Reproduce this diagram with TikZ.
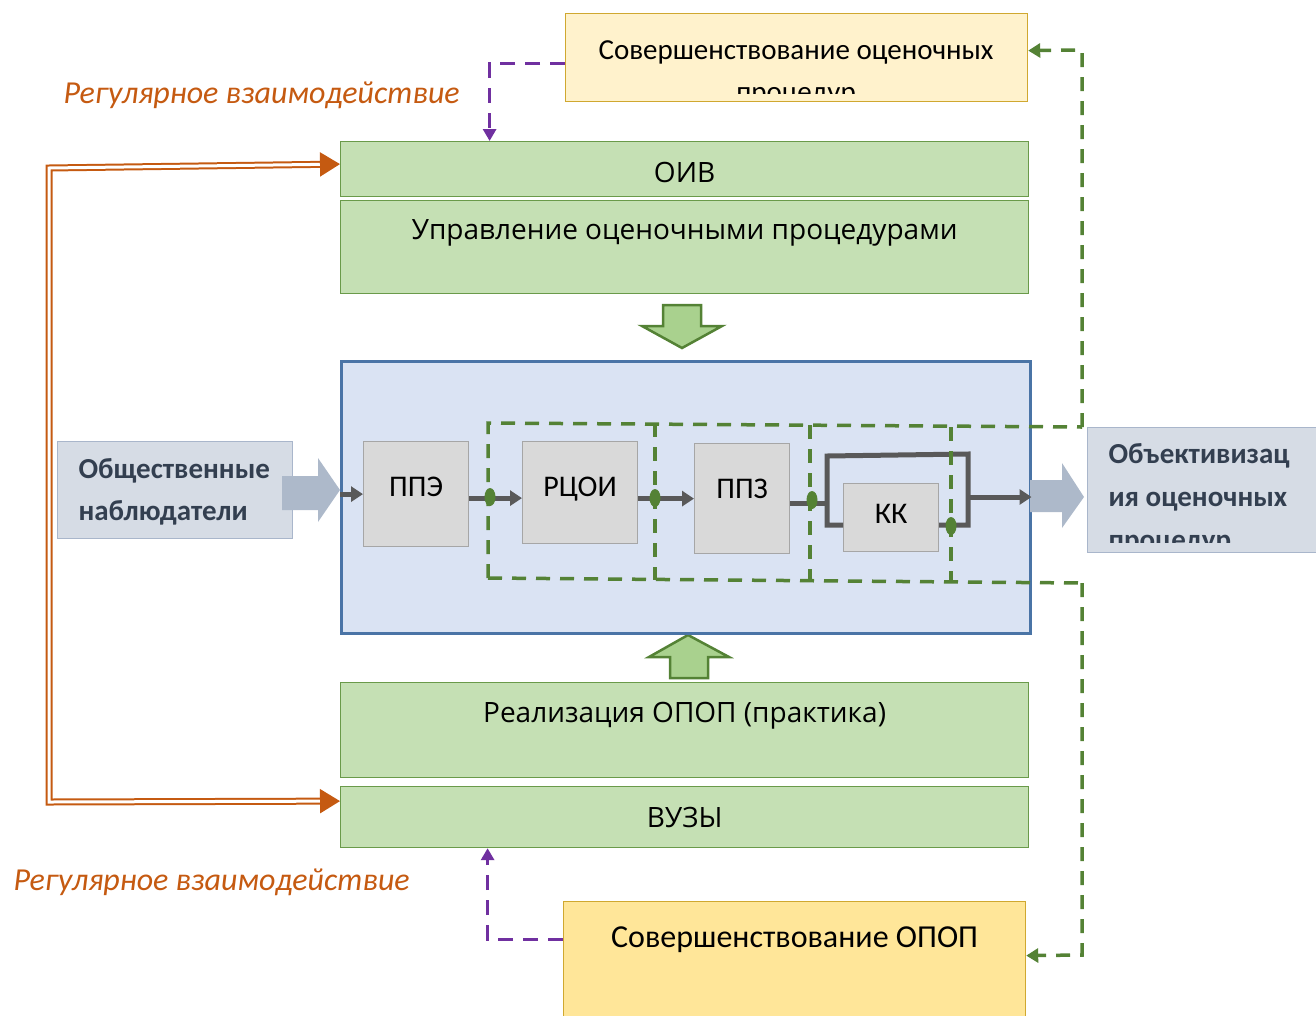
\documentclass[tikz,border=0pt]{standalone}
\usepackage{fontspec}
\setmainfont{Carlito}
\newfontfamily\boxfont{Open Sans}
\usetikzlibrary{arrows.meta}
\usetikzlibrary{shapes.geometric}
\usetikzlibrary{positioning}

\definecolor{grfill}{HTML}{C5E0B4}
\definecolor{grline}{HTML}{6A9A4A}
\definecolor{arrgfill}{HTML}{A9D18E}
\definecolor{ylfilla}{HTML}{FFF2CC}
\definecolor{ylfillb}{HTML}{FFE699}
\definecolor{ylline}{HTML}{D0A830}
\definecolor{bluefill}{HTML}{DAE3F3}
\definecolor{blueline}{HTML}{4A74A6}
\definecolor{greyfill}{HTML}{D9D9D9}
\definecolor{greyline}{HTML}{A6A6A6}
\definecolor{darkarr}{HTML}{595959}
\definecolor{dashg}{HTML}{548235}
\definecolor{purp}{HTML}{7030A0}
\definecolor{orng}{HTML}{C55A11}
\definecolor{obsfill}{HTML}{D6DCE5}
\definecolor{obsline}{HTML}{A9B6CB}
\definecolor{obstext}{HTML}{333F50}
\definecolor{blockarr}{HTML}{ADB9CA}

\begin{document}
\begin{tikzpicture}[x=1pt,y=-1pt,
  greenbox/.style={draw=grline, fill=grfill, line width=1.2pt, inner sep=0pt, anchor=north west},
  gtext/.style={font=\boxfont\fontsize{28}{34}\selectfont},
  yellowbox/.style={draw=ylline, line width=1.2pt, inner sep=0pt, anchor=north west},
  ytext/.style={font=\fontsize{29}{42}\selectfont, align=center},
  greybox/.style={draw=greyline, fill=greyfill, line width=1.2pt, inner sep=0pt, anchor=north west, font=\fontsize{30}{34}\selectfont},
  obsbox/.style={draw=obsline, fill=obsfill, line width=1.2pt, inner sep=0pt, anchor=north west},
  obstxt/.style={font=\bfseries\fontsize{29}{42}\selectfont, text=obstext, align=left},
  darr/.style={draw=darkarr, line width=5pt, -{Triangle[length=12pt,width=15pt]}},
  dline/.style={draw=darkarr, line width=5pt},
  gdash/.style={draw=dashg, line width=3.5pt, dash pattern=on 14pt off 10pt},
  pdash/.style={draw=purp, line width=3.3pt, dash pattern=on 15pt off 10pt},
  gdot/.style={ellipse, fill=dashg, minimum width=11pt, minimum height=18pt, inner sep=0pt},
  odbl/.style={draw=orng, line width=2pt, double=white, double distance=3pt},
  itxt/.style={font=\itshape\fontsize{32}{34}\selectfont, text=orng, anchor=base west},
  blockg/.style={draw=dashg, fill=arrgfill, line width=2.5pt},
  blockb/.style={fill=blockarr}]
\useasboundingbox (0,0) rectangle (1316,1015);

% green boxes
\node[greenbox, minimum width=688pt, minimum height=55pt] (oiv) at (340,141) {};
\node[gtext] (oivtxt) at ([yshift=-3pt]oiv.center) {ОИВ};
\node[greenbox, minimum width=688pt, minimum height=93pt] (upr) at (340,200) {};
\node[gtext] (uprtxt) at ([yshift=-33pt]upr.north) {Управление оценочными процедурами};
\node[greenbox, minimum width=688pt, minimum height=95pt] (real) at (340,682) {};
\node[gtext] (realtxt) at ([yshift=-34pt]real.north) {Реализация ОПОП (практика)};
\node[greenbox, minimum width=688pt, minimum height=61pt] (vuz) at (340,786) {};
\node[gtext] (vuztxt) at (vuz.center) {ВУЗЫ};

% yellow boxes
\node[yellowbox, fill=ylfilla, minimum width=462pt, minimum height=88pt] (sovoc) at (565,13) {};
\begin{scope}
\clip (570,18) rectangle (1022,93);
\node[ytext, anchor=base] (sovoctxt) at (796,101) {Совершенствование оценочных\\процедур};
\end{scope}
\node[yellowbox, fill=ylfillb, minimum width=462pt, minimum height=130pt] (sovop) at (563,901) {};
\node[ytext, font=\fontsize{32}{40}\selectfont] (sovoptxt) at ([yshift=-39pt]sovop.north) {Совершенствование ОПОП};

% block arrows
\draw[blockg] (663,305) -- (701,305) -- (701,326) -- (722,326) -- (682,348) -- (642,326) -- (663,326) -- cycle;
\draw[blockg] (670,678) -- (708,678) -- (708,657) -- (729,657) -- (688,635) -- (649,657) -- (670,657) -- cycle;

% main box
\node[draw=blueline, fill=bluefill, line width=2.5pt, inner sep=0pt, anchor=north west,
  minimum width=689pt, minimum height=272pt] (main) at (340,360) {};

% observers and result
\node[obsbox, minimum width=235pt, minimum height=97pt] (obs) at (57,441) {};
\node[obstxt, anchor=base west] (obstx) at (75,520) {Общественные\\наблюдатели};
\fill[blockb] (282,476) -- (318,476) -- (318,458) -- (340,490) -- (318,522) -- (318,510) -- (282,510) -- cycle;

\node[obsbox, minimum width=240pt, minimum height=125pt] (obj) at (1087,427) {};
\begin{scope}
\clip (1088,428) rectangle (1316,542);
\node[obstxt, font=\bfseries\fontsize{29}{43}\selectfont, anchor=base west] (objtx) at (1105,549) {Объективизац\\ия оценочных\\процедур};
\end{scope}
\fill[blockb] (1030,480) -- (1062,480) -- (1062,463) -- (1084,497) -- (1062,528) -- (1062,512) -- (1030,512) -- cycle;

% inner chain
\node[greybox, minimum width=105pt, minimum height=105pt, text depth=14pt] (ppe) at (363,441) {ППЭ};
\node[greybox, minimum width=115pt, minimum height=102pt, text depth=12pt] (rcoi) at (522,441) {РЦОИ};
\node[greybox, minimum width=95pt, minimum height=110pt, text depth=20pt] (ppz) at (694,443) {ППЗ};
\node[greybox, minimum width=95pt, minimum height=68pt, text depth=8pt] (kk) at (843,483) {КК};

\coordinate (lnw) at (827,456);
\coordinate (lne) at (968,454);
\coordinate (lsw) at (827,525);
\coordinate (lse) at (968,525);

\draw[darr] (ppe.west -| main.west) -- (ppe.west);
\draw[darr] ([yshift=-4pt]ppe.east) -- ([yshift=-4pt]ppe.east -| rcoi.west);
\draw[darr] ([yshift=-6pt]rcoi.east) -- ([yshift=-6pt]rcoi.east -| ppz.west);
\draw[dline] ([yshift=-5pt]ppz.east) -- ([yshift=-5pt]ppz.east -| lnw);
\draw[dline] (kk.west |- lsw) -- (lsw) -- (lnw) -- (lne) -- (lse) -- (kk.east |- lse);
\draw[darr] (968,497) -- (main.east |- 0,497);

% dashed groups
\draw[gdash] (488,578) -- (488,423) -- (1082,427);
\draw[gdash] (488,578) -- (1082,583);
\draw[gdash] (655,423) -- (655,580);
\draw[gdash] (810,425) -- (810,581);
\draw[gdash] (951,427) -- (951,583);

\node[gdot] (pa) at (490,497) {};
\node[gdot] (pb) at (655,498) {};
\node[gdot] (pc) at (812,500) {};
\node[gdot] (pd) at (951,526) {};

% feedback
\draw[gdash, -{Triangle[length=12pt,width=14pt]}] (1082,427) -- (1082,50) -- ([yshift=7pt]sovoc.east);
\draw[gdash, -{Triangle[length=12pt,width=14pt]}] (1082,583) -- (1082,955) -- ([yshift=11pt]sovop.east);

\draw[pdash, -{Triangle[length=12pt,width=13pt]}] ([yshift=-6pt]sovoc.west) -| ([xshift=-195pt]oiv.north);
\draw[pdash, -{Triangle[length=12pt,width=13pt]}] ([yshift=27pt]sovop.west) -| ([xshift=-197pt]vuz.south);

% regular interaction
\draw[odbl, {Triangle[length=20pt,width=24pt]}-{Triangle[length=20pt,width=24pt]}] ([yshift=5pt]oiv.west) -- (49,168) -- (49,802) -- ([yshift=16pt]vuz.west);
\node[itxt] (regtop) at (60,103) {Регулярное взаимодействие};
\node[itxt] (regbot) at (10,890) {Регулярное взаимодействие};

\end{tikzpicture}
\end{document}
